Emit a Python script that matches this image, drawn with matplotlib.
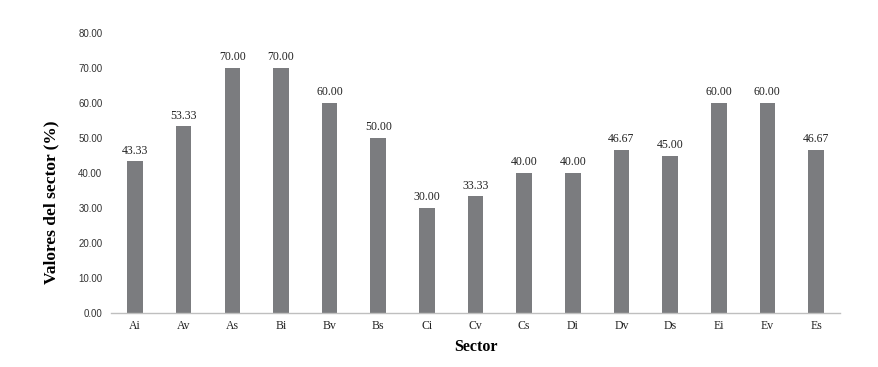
import matplotlib
matplotlib.use("Agg")
import matplotlib.pyplot as plt
import numpy as np

# Chart data
sectors = ["Ai", "Av", "As", "Bi", "Bv", "Bs", "Ci", "Cv", "Cs",
           "Di", "Dv", "Ds", "Ei", "Ev", "Es"]
values = [43.33, 53.33, 70.00, 70.00, 60.00, 50.00, 30.00, 33.33, 40.00,
          40.00, 46.67, 45.00, 60.00, 60.00, 46.67]
y_ticks = [0, 10, 20, 30, 40, 50, 60, 70, 80]

plt.rcParams["font.family"] = ["Liberation Serif", "DejaVu Serif"]

fig = plt.figure(figsize=(8.79, 3.67), dpi=100)
ax = fig.add_axes([0.126, 0.147, 0.830, 0.763])

x = np.arange(len(sectors))
bars = ax.bar(x, values, width=0.32, color="#7b7c7f")

for rect, v in zip(bars, values):
    ax.text(rect.get_x() + rect.get_width() / 2, v + 1.3, f"{v:.2f}",
            ha="center", va="bottom", fontsize=8.5, color="#222222")

ax.set_xlim(-0.5, len(sectors) - 0.5)
ax.set_ylim(0, 80)
ax.set_yticks(y_ticks)
ax.set_yticklabels([f"{t:.2f}" for t in y_ticks], fontsize=7,
                   color="#333333", family="Liberation Sans")
ax.set_xticks(x)
ax.set_xticklabels(sectors, fontsize=8.5, color="#222222")
ax.tick_params(axis="both", length=0)
ax.tick_params(axis="y", pad=6)
ax.tick_params(axis="x", pad=5)

for side in ["top", "right", "left"]:
    ax.spines[side].set_visible(False)
ax.spines["bottom"].set_color("#bfbfbf")
ax.spines["bottom"].set_linewidth(1.0)

ax.set_xlabel("Sector", fontsize=11.5, fontweight="bold", labelpad=5)
ax.set_ylabel("Valores del sector (%)", fontsize=12.5, fontweight="bold", labelpad=6)
ax.yaxis.set_label_coords(-0.07, 0.396)

fig.savefig("out.png", dpi=100)
